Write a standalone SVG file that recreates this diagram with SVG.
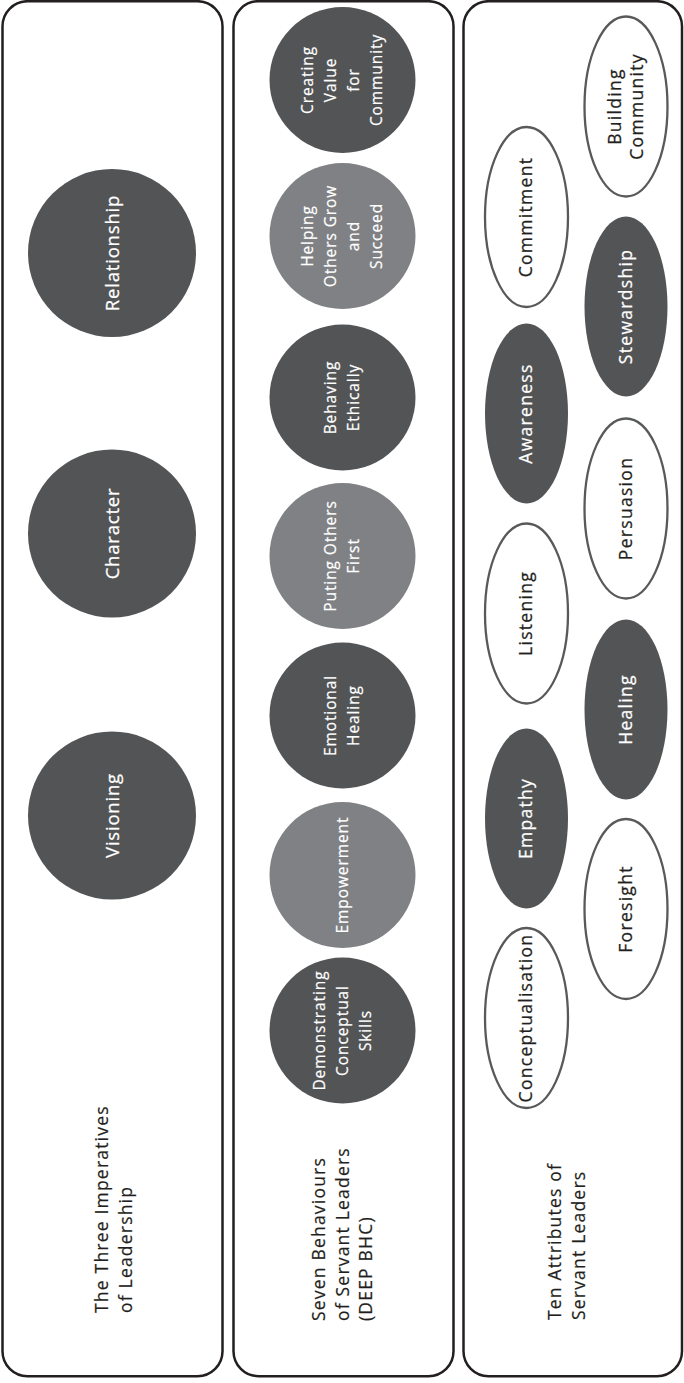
<svg xmlns="http://www.w3.org/2000/svg" width="684" height="1383" viewBox="0 0 684 1383">
<style>
.panel{fill:#fff;stroke:#231f20;stroke-width:2.5}
.dark{fill:#535456}
.light{fill:#808184}
.outline{fill:#fff;stroke:#58595b;stroke-width:2.3}
text{font-family:"Open Sans","DejaVu Sans",sans-serif}
.big{font-size:18.5px;letter-spacing:0.8px;fill:#fff;stroke:#fff;stroke-width:0.25;text-anchor:middle}
.mid{font-size:15.5px;letter-spacing:0.9px;fill:#fff;stroke:#fff;stroke-width:0.2;text-anchor:middle}
.att{font-size:17.5px;letter-spacing:1.3px;stroke-width:0.25;text-anchor:middle}
.att.w{fill:#fff;stroke:#fff}
.att.k{fill:#231f20;stroke:#231f20}
.lab{font-size:17.5px;letter-spacing:1.2px;fill:#231f20;stroke:#231f20;stroke-width:0.2}
</style>
<rect width="684" height="1383" fill="#fff"/>
<g id="connectors"/>

<g id="panel1">
<rect class="panel" x="2.5" y="1.2" width="220" height="1375" rx="25" ry="25"/>
<g transform="translate(108,1313) rotate(-90)"><text class="lab" x="0" y="0"><tspan x="0" dy="0">The Three Imperatives</tspan><tspan x="0" dy="23.5">of Leadership</tspan></text></g>
</g>
<g id="panel2">
<rect class="panel" x="233.5" y="1.2" width="220" height="1375" rx="25" ry="25"/>
<g transform="translate(325,1321) rotate(-90)"><text class="lab" x="0" y="0"><tspan x="0" dy="0">Seven Behaviours</tspan><tspan x="0" dy="23.5">of Servant Leaders</tspan><tspan x="0" dy="23.5">(DEEP BHC)</tspan></text></g>
</g>
<g id="panel3">
<rect class="panel" x="463.5" y="1.2" width="218.5" height="1375" rx="25" ry="25"/>
<g transform="translate(561,1320) rotate(-90)"><text class="lab" x="0" y="0"><tspan x="0" dy="0">Ten Attributes of</tspan><tspan x="0" dy="23.5">Servant Leaders</tspan></text></g>
</g>

<g id="relationship"><circle class="dark" cx="112" cy="253" r="84"/><g transform="translate(112,253) rotate(-90)"><text class="big" y="6.5">Relationship</text></g></g>
<g id="character"><circle class="dark" cx="112" cy="533.5" r="84"/><g transform="translate(112,533.5) rotate(-90)"><text class="big" y="6.5">Character</text></g></g>
<g id="visioning"><circle class="dark" cx="112" cy="815.5" r="84"/><g transform="translate(112,815.5) rotate(-90)"><text class="big" y="6.5">Visioning</text></g></g>

<g id="creating-value"><circle class="dark" cx="342.5" cy="80" r="73"/><g transform="translate(342.5,80) rotate(-90)"><text class="mid" y="-29.5"><tspan x="0">Creating</tspan><tspan x="0" dy="23">Value</tspan><tspan x="0" dy="23">for</tspan><tspan x="0" dy="23">Community</tspan></text></g></g>
<g id="helping-others"><circle class="light" cx="342.5" cy="236" r="73"/><g transform="translate(342.5,236) rotate(-90)"><text class="mid" y="-29.5"><tspan x="0">Helping</tspan><tspan x="0" dy="23">Others Grow</tspan><tspan x="0" dy="23">and</tspan><tspan x="0" dy="23">Succeed</tspan></text></g></g>
<g id="behaving-ethically"><circle class="dark" cx="342.5" cy="397.5" r="73"/><g transform="translate(342.5,397.5) rotate(-90)"><text class="mid" y="-6.5"><tspan x="0">Behaving</tspan><tspan x="0" dy="23">Ethically</tspan></text></g></g>
<g id="puting-others-first"><circle class="light" cx="342.5" cy="556" r="73"/><g transform="translate(342.5,556) rotate(-90)"><text class="mid" y="-6.5"><tspan x="0">Puting Others</tspan><tspan x="0" dy="23">First</tspan></text></g></g>
<g id="emotional-healing"><circle class="dark" cx="342.5" cy="715.5" r="73"/><g transform="translate(342.5,715.5) rotate(-90)"><text class="mid" y="-6.5"><tspan x="0">Emotional</tspan><tspan x="0" dy="23">Healing</tspan></text></g></g>
<g id="empowerment"><circle class="light" cx="342.5" cy="875" r="73"/><g transform="translate(342.5,875) rotate(-90)"><text class="mid" y="5">Empowerment</text></g></g>
<g id="demonstrating"><circle class="dark" cx="342.5" cy="1030.5" r="73"/><g transform="translate(342.5,1030.5) rotate(-90)"><text class="mid" y="-18"><tspan x="0">Demonstrating</tspan><tspan x="0" dy="23">Conceptual</tspan><tspan x="0" dy="23">Skills</tspan></text></g></g>

<g id="commitment"><ellipse class="outline" cx="526.5" cy="217" rx="41.5" ry="90"/><g transform="translate(526.5,217) rotate(-90)"><text class="att k" y="5.5">Commitment</text></g></g>
<g id="awareness"><ellipse class="dark" cx="526.5" cy="413.5" rx="41.5" ry="90"/><g transform="translate(526.5,413.5) rotate(-90)"><text class="att w" y="5.5">Awareness</text></g></g>
<g id="listening"><ellipse class="outline" cx="526.5" cy="613.5" rx="41.5" ry="90"/><g transform="translate(526.5,613.5) rotate(-90)"><text class="att k" y="5.5">Listening</text></g></g>
<g id="empathy"><ellipse class="dark" cx="526.5" cy="818.5" rx="41.5" ry="90"/><g transform="translate(526.5,818.5) rotate(-90)"><text class="att w" y="5.5">Empathy</text></g></g>
<g id="conceptualisation"><ellipse class="outline" cx="526.5" cy="1018" rx="41.5" ry="90"/><g transform="translate(526.5,1018) rotate(-90)"><text class="att k" y="5.5">Conceptualisation</text></g></g>

<g id="building-community"><ellipse class="outline" cx="626" cy="106.5" rx="41.5" ry="90"/><g transform="translate(626,106.5) rotate(-90)"><text class="att k" y="-5.5"><tspan x="0">Building</tspan><tspan x="0" dy="22.5">Community</tspan></text></g></g>
<g id="stewardship"><ellipse class="dark" cx="626" cy="306.5" rx="41.5" ry="90"/><g transform="translate(626,306.5) rotate(-90)"><text class="att w" y="5.5">Stewardship</text></g></g>
<g id="persuasion"><ellipse class="outline" cx="626" cy="508.5" rx="41.5" ry="90"/><g transform="translate(626,508.5) rotate(-90)"><text class="att k" y="5.5">Persuasion</text></g></g>
<g id="healing"><ellipse class="dark" cx="626" cy="709.5" rx="41.5" ry="90"/><g transform="translate(626,709.5) rotate(-90)"><text class="att w" y="5.5">Healing</text></g></g>
<g id="foresight"><ellipse class="outline" cx="626" cy="909" rx="41.5" ry="90"/><g transform="translate(626,909) rotate(-90)"><text class="att k" y="5.5">Foresight</text></g></g>
</svg>
